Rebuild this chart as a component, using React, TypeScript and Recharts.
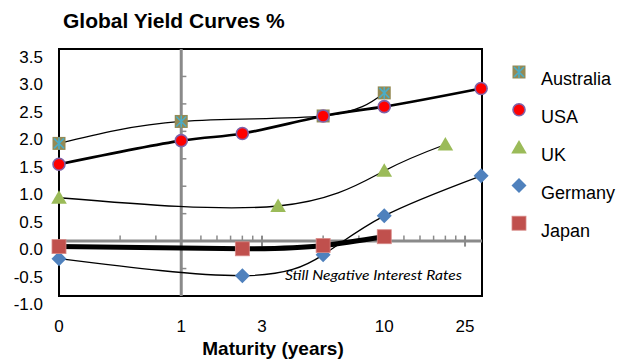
import {
  LineChart,
  Line,
  XAxis,
  YAxis,
  ReferenceLine,
  ReferenceArea,
} from "recharts";

// maturities in years, yields in %
const AUS_X = [0.25, 1, 5, 10];
const AUS_Y = [1.78, 2.18, 2.28, 2.7];
const USA_X = [0.25, 1, 2, 5, 10, 30];
const USA_Y = [1.4, 1.83, 1.96, 2.28, 2.45, 2.78];
const UK_X = [0.25, 3, 10, 20];
const UK_Y = [0.79, 0.64, 1.28, 1.76];
const GER_X = [0.25, 2, 5, 10, 30];
const GER_Y = [-0.32, -0.63, -0.25, 0.46, 1.19];
const JPN_X = [0.25, 2, 5, 10];
const JPN_Y = [-0.1, -0.14, -0.08, 0.08];

const X_TICKS = [0.25, 1, 2.5, 10, 25];
const X_TICK_LABELS = ["0", "1", "3", "10", "25"];
const Y_TICKS = [-1, -0.5, 0, 0.5, 1, 1.5, 2, 2.5, 3, 3.5];

// the grey log axis drawn through zero, and the grey value axis at 1 year
const GREY_MINOR = [0.5, 0.75, 1, 1.25, 1.5, 1.75, 2, 2.25, 5, 7.5, 10, 12.5, 15, 17.5, 20, 22.5];
const GREY_MAJOR = [2.5, 25];
const GREY_Y_TICKS = [-0.5, 0.5, 1, 1.5, 2, 2.5, 3];

const X_DOMAIN = [0.25, 30.3];
const FONT = "'Liberation Sans', Arial, sans-serif";
const GREY = "#8a8a8a";

type Kind = "aus" | "usa" | "uk" | "ger" | "jpn";

const toPoints = (xs: number[], ys: number[]) => xs.map((x, i) => ({ x, y: ys[i] }));

const SERIES: { name: string; kind: Kind; data: { x: number; y: number }[]; width: number }[] = [
  { name: "Australia", kind: "aus", data: toPoints(AUS_X, AUS_Y), width: 1.3 },
  { name: "USA", kind: "usa", data: toPoints(USA_X, USA_Y), width: 2.7 },
  { name: "UK", kind: "uk", data: toPoints(UK_X, UK_Y), width: 1.3 },
  { name: "Germany", kind: "ger", data: toPoints(GER_X, GER_Y), width: 1.3 },
  { name: "Japan", kind: "jpn", data: toPoints(JPN_X, JPN_Y), width: 5 },
];

function Marker({ kind, cx, cy }: { kind: Kind; cx: number; cy: number }) {
  if (cx == null || cy == null) return null;
  switch (kind) {
    case "aus":
      return (
        <g>
          <rect x={cx - 6.5} y={cy - 6.5} width={13} height={13} fill="#948a54" />
          <path
            d={`M${cx - 5} ${cy - 5}L${cx + 5} ${cy + 5}M${cx + 5} ${cy - 5}L${cx - 5} ${cy + 5}M${cx} ${cy - 6}L${cx} ${cy + 6}`}
            stroke="#4bacc6"
            strokeWidth={1.6}
          />
        </g>
      );
    case "usa":
      return <circle cx={cx} cy={cy} r={6} fill="#ff0000" stroke="#7f62a8" strokeWidth={1.6} />;
    case "uk":
      return (
        <path
          d={`M${cx} ${cy - 7.5}L${cx + 7.8} ${cy + 6}L${cx - 7.8} ${cy + 6}Z`}
          fill="#9bbb59"
        />
      );
    case "ger":
      return (
        <path
          d={`M${cx} ${cy - 7.5}L${cx + 7.5} ${cy}L${cx} ${cy + 7.5}L${cx - 7.5} ${cy}Z`}
          fill="#4f81bd"
        />
      );
    default:
      return (
        <rect
          x={cx - 7}
          y={cy - 7}
          width={14}
          height={14}
          fill="#c0504d"
          stroke="#d88a88"
          strokeWidth={0.8}
        />
      );
  }
}

export default function App() {
  return (
    <div style={{ position: "absolute", left: 0, top: 0, width: 618, height: 360 }}>
      <LineChart
        width={618}
        height={360}
        margin={{ top: 49, right: 136, left: 0, bottom: 0 }}
      >
        <XAxis
          type="number"
          dataKey="x"
          scale="log"
          domain={X_DOMAIN}
          ticks={X_TICKS}
          interval={0}
          height={64}
          axisLine={false}
          tickLine={false}
          tickSize={0}
          tickMargin={0}
          tick={(p: any) => (
            <text
              x={p.x}
              y={p.y + 36}
              textAnchor="middle"
              fontSize={17}
              fontFamily={FONT}
              fill="#000"
            >
              {X_TICK_LABELS[X_TICKS.indexOf(p.payload.value)]}
            </text>
          )}
        />
        <YAxis
          type="number"
          dataKey="y"
          domain={[-1, 3.5]}
          ticks={Y_TICKS}
          interval={0}
          width={59}
          axisLine={false}
          tickLine={false}
          tickSize={0}
          tickMargin={16}
          tick={(p: any) => (
            <text
              x={p.x}
              y={p.y + 14}
              textAnchor="end"
              fontSize={17}
              fontFamily={FONT}
              fill="#000"
            >
              {Number(p.payload.value).toFixed(1)}
            </text>
          )}
        />

        <ReferenceArea
          x1={X_DOMAIN[0]}
          x2={X_DOMAIN[1]}
          y1={-1}
          y2={3.5}
          fill="none"
          stroke="#000"
          strokeWidth={2}
          ifOverflow="visible"
          zIndex={10}
        />
        <ReferenceLine y={0} stroke={GREY} strokeWidth={3} zIndex={11} />
        <ReferenceLine x={1} stroke={GREY} strokeWidth={3} zIndex={11} />
        {GREY_MINOR.map((v) => (
          <ReferenceLine
            key={"mx" + v}
            segment={[
              { x: v, y: 0 },
              { x: v, y: 0.1 },
            ]}
            stroke={GREY}
            strokeWidth={1.5}
            zIndex={11}
          />
        ))}
        {GREY_MAJOR.map((v) => (
          <ReferenceLine
            key={"Mx" + v}
            segment={[
              { x: v, y: -0.1 },
              { x: v, y: 0.1 },
            ]}
            stroke={GREY}
            strokeWidth={2}
            zIndex={11}
          />
        ))}
        {GREY_Y_TICKS.map((v) => (
          <ReferenceLine
            key={"gy" + v}
            segment={[
              { x: 1, y: v },
              { x: 1.06, y: v },
            ]}
            stroke={GREY}
            strokeWidth={1.5}
            zIndex={11}
          />
        ))}

        {SERIES.map((s) => (
          <Line
            key={"m" + s.kind}
            data={s.data}
            dataKey="y"
            stroke="none"
            isAnimationActive={false}
            activeDot={false}
            zIndex={20}
            dot={(p: any) => <Marker key={s.kind + p.index} kind={s.kind} cx={p.cx} cy={p.cy} />}
          />
        ))}
        {SERIES.map((s) => (
          <Line
            key={"l" + s.kind}
            data={s.data}
            dataKey="y"
            type="natural"
            stroke="#000"
            strokeWidth={s.width}
            dot={false}
            activeDot={false}
            zIndex={30}
            isAnimationActive={false}
          />
        ))}
      </LineChart>

      <svg
        width={618}
        height={360}
        style={{ position: "absolute", left: 0, top: 0, pointerEvents: "none" }}
      >
        <text x={63} y={28} fontSize={21} fontWeight="bold" fontFamily={FONT} fill="#000">
          Global Yield Curves %
        </text>
        <text
          x={273}
          y={355}
          textAnchor="middle"
          fontSize={19}
          fontWeight="bold"
          fontFamily={FONT}
          fill="#000"
        >
          Maturity (years)
        </text>
        <text
          x={285}
          y={280}
          fontSize={14}
          fontStyle="italic"
          fontFamily="Lato, 'Open Sans', sans-serif"
          textLength={177}
          lengthAdjust="spacingAndGlyphs"
          fill="#000"
        >
          Still Negative Interest Rates
        </text>
        {SERIES.map((s, i) => (
          <g key={"lg" + s.kind}>
            <Marker kind={s.kind} cx={519} cy={72 + i * 37.8} />
            <text
              x={541}
              y={85 + i * 37.9}
              fontSize={18}
              fontFamily={FONT}
              fill="#000"
            >
              {s.name}
            </text>
          </g>
        ))}
      </svg>
    </div>
  );
}
